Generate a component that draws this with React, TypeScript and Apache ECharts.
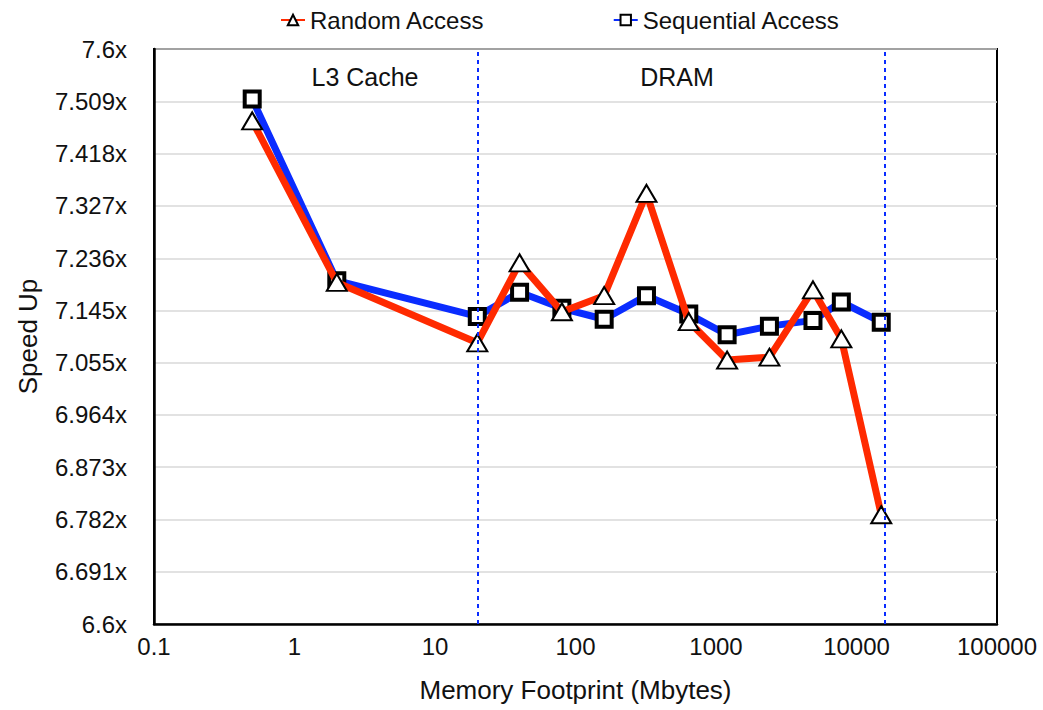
import React, { useEffect, useRef } from "react";
import * as echarts from "echarts";

// Memory footprint in Mbytes for each measurement
const footprints = [0.5, 2, 20, 40, 80, 160, 320, 640, 1200, 2400, 4900, 7800, 15000];
// Speed-up for random access pattern
const randomAccess = [7.475, 7.194, 7.089, 7.228, 7.143, 7.171, 7.349, 7.126, 7.059, 7.064, 7.181, 7.096, 6.79];
// Speed-up for sequential access pattern
const sequentialAccess = [7.513, 7.197, 7.135, 7.177, 7.149, 7.13, 7.171, 7.139, 7.103, 7.118, 7.128, 7.16, 7.125];

// Y-axis tick values (eleven equal steps between 6.6 and 7.6)
const yTicks = [6.6, 6.691, 6.782, 6.873, 6.964, 7.055, 7.145, 7.236, 7.327, 7.418, 7.509, 7.6];
// X-axis decade labels
const xTicks = [0.1, 1, 10, 100, 1000, 10000, 100000];
// Region boundaries (Mbytes)
const boundaries = [20, 16000];
// Region labels
const regionLabels = ["L3 Cache", "DRAM"];

const FONT = "'Liberation Sans', Arial, Helvetica, sans-serif";
const RED = "#ff2a00";
const BLUE = "#0a2cff";

export default function App() {
  const ref = useRef<HTMLDivElement>(null);

  useEffect(() => {
    if (!ref.current) return;
    const chart = echarts.init(ref.current, null, { renderer: "svg" });

    const toPairs = (vals: number[]) => footprints.map((x, i) => [x, vals[i]]);

    const regionText = (text: string, x: number) => ({
      type: "text",
      x,
      y: 77,
      style: {
        text,
        font: `25px ${FONT}`,
        fill: "#111",
        textAlign: "center",
        textVerticalAlign: "middle",
      },
    });

    chart.setOption({
      animation: false,
      backgroundColor: "#ffffff",
      textStyle: { fontFamily: FONT },
      grid: {
        left: 154,
        right: 46,
        top: 49,
        bottom: 86,
        show: true,
        borderColor: "#000",
        borderWidth: 2,
        backgroundColor: "transparent",
      },
      legend: {
        top: 3,
        left: 275,
        itemGap: 128,
        itemWidth: 24,
        itemHeight: 13,
        textStyle: { fontFamily: FONT, fontSize: 24, color: "#111" },
        data: ["Random Access", "Sequential Access"],
      },
      xAxis: {
        type: "log",
        logBase: 10,
        min: 0.1,
        max: 100000,
        name: "Memory Footprint (Mbytes)",
        nameLocation: "middle",
        nameGap: 53,
        nameTextStyle: { fontFamily: FONT, fontSize: 26, color: "#111" },
        axisLine: { show: true, lineStyle: { color: "#000", width: 2.5 } },
        axisTick: { show: false },
        splitLine: { show: false },
        minorSplitLine: { show: false },
        axisLabel: {
          customValues: xTicks,
          margin: 10,
          fontFamily: FONT,
          fontSize: 24,
          color: "#111",
          formatter: (v: number) => String(v),
        },
      },
      yAxis: {
        type: "value",
        min: 6.6,
        max: 7.6,
        name: "Speed Up",
        nameLocation: "middle",
        nameGap: 113,
        nameTextStyle: { fontFamily: FONT, fontSize: 26, color: "#111" },
        axisLine: { show: true, lineStyle: { color: "#000", width: 2.5 } },
        axisTick: { show: false, customValues: yTicks },
        splitLine: { show: true, lineStyle: { color: "#d9d9d9", width: 1.5 } },
        axisLabel: {
          customValues: yTicks,
          margin: 27,
          fontFamily: FONT,
          fontSize: 24,
          color: "#111",
          formatter: (v: number) => `${v}x`,
        },
      },
      graphic: [regionText(regionLabels[0], 365), regionText(regionLabels[1], 677)],
      series: [
        {
          name: "Sequential Access",
          type: "line",
          data: toPairs(sequentialAccess),
          lineStyle: { color: BLUE, width: 7 },
          itemStyle: { color: "#fff", borderColor: "#000", borderWidth: 4 },
          symbol: "rect",
          symbolSize: 15,
          z: 2,
          markLine: {
            silent: true,
            symbol: "none",
            label: { show: false },
            lineStyle: { color: BLUE, type: [4, 4], width: 2 },
            data: boundaries.map((b) => ({ xAxis: b })),
          },
        },
        {
          name: "Random Access",
          type: "line",
          data: toPairs(randomAccess),
          lineStyle: { color: RED, width: 7 },
          itemStyle: { color: "#fff", borderColor: "#000", borderWidth: 2 },
          symbol: "triangle",
          symbolSize: [20, 17],
          z: 3,
        },
      ],
    });

    return () => chart.dispose();
  }, []);

  return (
    <div
      ref={ref}
      style={{ position: "fixed", left: 0, top: 0, width: 1043, height: 710 }}
    />
  );
}
